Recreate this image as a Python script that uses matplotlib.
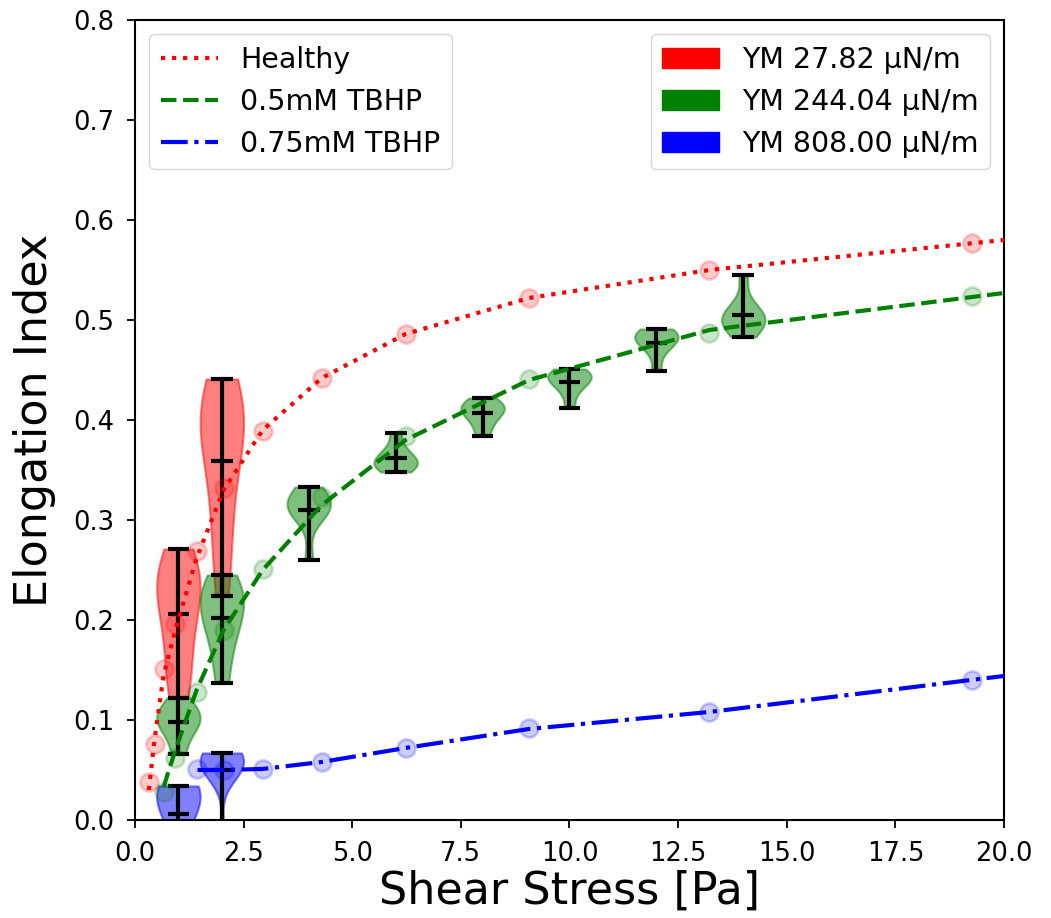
import matplotlib
matplotlib.use("Agg")
import matplotlib.pyplot as plt
import matplotlib.patches as mpatches
import numpy as np

# ---------------- data ----------------
shear = [0.32, 0.45, 0.66, 0.93, 1.42, 2.04, 2.94, 4.30, 6.23, 9.07, 13.22, 19.27]
healthy = [0.038, 0.076, 0.151, 0.196, 0.269, 0.332, 0.389, 0.442, 0.486, 0.522, 0.550, 0.577]
tbhp05 = [np.nan, np.nan, 0.028, 0.062, 0.128, 0.190, 0.251, 0.323, 0.384, 0.441, 0.487, 0.524]
tbhp075 = [np.nan, np.nan, np.nan, np.nan, 0.051, 0.050, 0.051, 0.058, 0.072, 0.092, 0.108, 0.140]

# fitted curves
healthy_fit_x = [0.32, 0.45, 0.66, 0.93, 1.42, 2.04, 2.94, 4.30, 6.23, 9.07, 13.22, 20.0]
healthy_fit_y = [0.030, 0.080, 0.145, 0.190, 0.262, 0.330, 0.390, 0.442, 0.486, 0.522, 0.550, 0.580]
tbhp05_fit_x = [0.66, 0.93, 1.42, 2.04, 2.94, 4.30, 6.23, 9.07, 13.22, 20.0]
tbhp05_fit_y = [0.033, 0.070, 0.130, 0.190, 0.250, 0.315, 0.380, 0.440, 0.490, 0.527]
tbhp075_fit_x = [1.44, 2.04, 2.94, 4.30, 6.23, 9.07, 13.22, 20.0]
tbhp075_fit_y = [0.050, 0.050, 0.051, 0.058, 0.072, 0.091, 0.108, 0.144]

# violin samples
red_pos = [1, 2]
red_samples = [
    [0.122, 0.14, 0.165, 0.19, 0.21, 0.225, 0.235, 0.245, 0.255, 0.271],
    [0.224, 0.27, 0.31, 0.34, 0.38, 0.39, 0.40, 0.41, 0.42, 0.441],
]
green_pos = [1, 2, 4, 6, 8, 10, 12, 14]
green_samples = [
    [0.066, 0.085, 0.095, 0.100, 0.105, 0.110, 0.122],
    [0.137, 0.170, 0.190, 0.205, 0.215, 0.225, 0.230, 0.245],
    [0.260, 0.305, 0.310, 0.310, 0.315, 0.320, 0.325, 0.333],
    [0.348, 0.352, 0.355, 0.358, 0.360, 0.365, 0.372, 0.387],
    [0.384, 0.395, 0.403, 0.408, 0.411, 0.414, 0.416, 0.422],
    [0.412, 0.428, 0.436, 0.440, 0.443, 0.445, 0.447, 0.451],
    [0.449, 0.468, 0.476, 0.480, 0.483, 0.485, 0.487, 0.491],
    [0.483, 0.492, 0.497, 0.500, 0.503, 0.507, 0.515, 0.545],
]
blue_pos = [1, 2]
blue_samples = [
    [-0.07, -0.03, 0.0, 0.015, 0.022, 0.026, 0.029, 0.031, 0.034],
    [-0.020, 0.050, 0.050, 0.055, 0.058, 0.060, 0.063, 0.065, 0.067],
]

line_labels = ["Healthy", "0.5mM TBHP", "0.75mM TBHP"]
ym_labels = ["YM 27.82 µN/m", "YM 244.04 µN/m", "YM 808.00 µN/m"]
colors = ["red", "green", "blue"]

# ---------------- figure ----------------
fig = plt.figure(figsize=(10.51, 9.18), dpi=100)
ax = fig.add_axes([0.1284, 0.1068, 0.9553 - 0.1284, 0.9782 - 0.1068])


def violins(pos, data, color):
    parts = ax.violinplot(data, positions=pos, widths=1.0, showmeans=True,
                          showextrema=True)
    for b in parts["bodies"]:
        b.set_facecolor(color)
        b.set_edgecolor(color)
        b.set_alpha(0.5)
        b.set_linewidth(1.5)
    for key in ("cmeans", "cmaxes", "cmins", "cbars"):
        parts[key].set_color("black")
        parts[key].set_linewidth(3)
        parts[key].set_zorder(3)


violins(red_pos, red_samples, "red")
violins(green_pos, green_samples, "green")
violins(blue_pos, blue_samples, "blue")

lw = 3
h1, = ax.plot(healthy_fit_x, healthy_fit_y, ":", color="red", lw=lw, zorder=4,
              label=line_labels[0])
h2, = ax.plot(tbhp05_fit_x, tbhp05_fit_y, "--", color="green", lw=lw, zorder=4,
              label=line_labels[1])
h3, = ax.plot(tbhp075_fit_x, tbhp075_fit_y, "-.", color="blue", lw=lw, zorder=4,
              label=line_labels[2])

for yv, c in zip([healthy, tbhp05, tbhp075], colors):
    ax.plot(shear, yv, "o", color=c, alpha=0.2, ms=13, mew=2, zorder=5)

ax.set_xlim(0, 20)
ax.set_ylim(0, 0.8)
ax.set_xticks(np.arange(0, 20.01, 2.5))
ax.set_yticks(np.arange(0, 0.801, 0.1))
ax.tick_params(labelsize=18.5, length=6, width=1.3, pad=9)
for s in ax.spines.values():
    s.set_linewidth(1.5)

ax.set_xlabel("Shear Stress [Pa]", fontsize=32, labelpad=2)
ax.set_ylabel("Elongation Index", fontsize=32, labelpad=12)

leg1 = ax.legend(handles=[h1, h2, h3], loc="upper left", fontsize=20.5)
ax.add_artist(leg1)
patches = [mpatches.Patch(color=c, label=l) for c, l in zip(colors, ym_labels)]
ax.legend(handles=patches, loc="upper right", fontsize=20.5)

fig.savefig("out.png", dpi=100)
